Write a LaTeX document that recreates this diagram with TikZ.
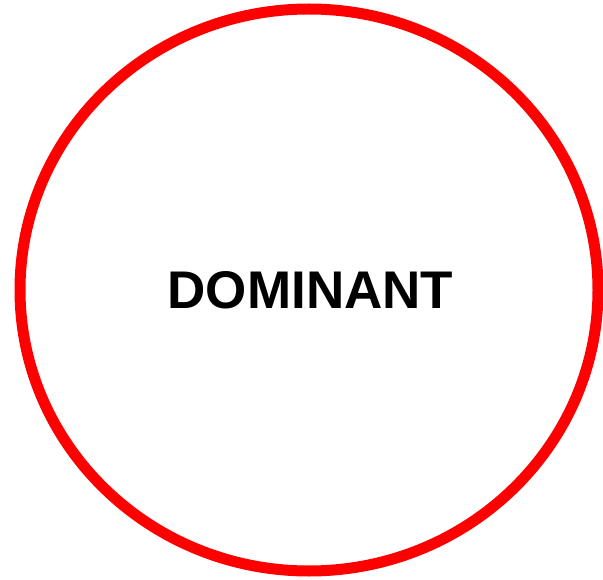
\documentclass[tikz,border=0pt]{standalone}
\usepackage{fontspec}
\setmainfont{Liberation Sans}
\begin{document}
\begin{tikzpicture}[x=1pt,y=-1pt,
  ring/.style={draw=red, line width=11pt},
  label/.style={font=\fontsize{53}{60}\selectfont\bfseries, text=black}]
\useasboundingbox (0,0) rectangle (603,580);
\draw[ring] (309,290) ellipse [x radius=289, y radius=281];
\node[label] (t) at (310.5,290) {DOMINANT};
\end{tikzpicture}
\end{document}
